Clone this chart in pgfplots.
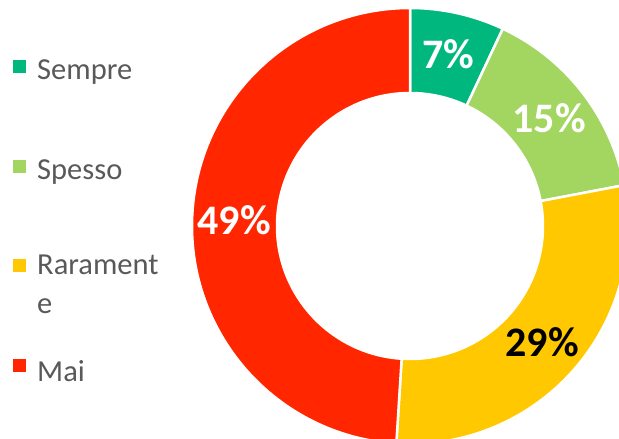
\documentclass[border=0pt]{standalone}
\usepackage{pgfplots}
\pgfplotsset{compat=1.18}
\usepackage{fontspec}
\setmainfont{Carlito}

\definecolor{csempre}{RGB}{0,184,126}
\definecolor{cspesso}{RGB}{162,214,96}
\definecolor{craro}{RGB}{255,200,0}
\definecolor{cmai}{RGB}{255,38,0}
\definecolor{legtext}{RGB}{89,89,89}
\newcommand\lblfont{\fontsize{42}{48}\selectfont\bfseries}
\newcommand\legfont{\fontsize{30.5}{39}\selectfont}

\begin{document}
\begin{tikzpicture}
\clip (0,0) rectangle (619pt,439pt);
\path[use as bounding box] (0,0) rectangle (619pt,439pt);
\begin{axis}[
    at={(0,0)}, anchor=south west,
    scale only axis, width=619pt, height=439pt,
    xmin=0, xmax=619, ymin=0, ymax=439,
    hide axis, clip=false
]
\def\cx{410}\def\cy{213}
\def\Ro{218}\def\Ri{133}
\xdef\angA{90}
% share in percent / colour / label colour
\foreach \v/\c/\t in {7/csempre/white,15/cspesso/white,29/craro/black,49/cmai/white}{
  \pgfmathsetmacro\angB{\angA-3.6*\v}
  \pgfmathsetmacro\angM{(\angA+\angB)/2}
  \edef\temp{%
    \noexpand\fill[\c,draw=white,line width=2.5pt]
      ([shift={(\angA:\Ro pt)}]axis cs:\cx,\cy)
      arc[start angle=\angA,end angle=\angB,radius=\Ro pt]
      -- ([shift={(\angB:\Ri pt)}]axis cs:\cx,\cy)
      arc[start angle=\angB,end angle=\angA,radius=\Ri pt] -- cycle;
    \noexpand\node[text=\t,font=\noexpand\lblfont]
      at ([shift={(\angM:176pt)}]axis cs:\cx,\cy) {\v\noexpand\%};
  }
  \temp
  \xdef\angA{\angB}
}
% legend
\foreach \y/\c in {372/csempre,272/cspesso,173/craro,73/cmai}{
  \edef\temp{%
    \noexpand\fill[\c] (axis cs:13,\y-6.5) rectangle (axis cs:26,\y+6.5);
  }
  \temp
}
\node[anchor=west,text=legtext,font=\legfont,inner sep=0pt] at (axis cs:37,367) {Sempre};
\node[anchor=west,text=legtext,font=\legfont,inner sep=0pt] at (axis cs:37,267) {Spesso};
\node[anchor=north west,text=legtext,font=\legfont,inner sep=0pt,align=left] at (axis cs:37,184) {Rarament\\e};
\node[anchor=west,text=legtext,font=\legfont,inner sep=0pt] at (axis cs:37,68) {Mai};
\end{axis}
\end{tikzpicture}
\end{document}
